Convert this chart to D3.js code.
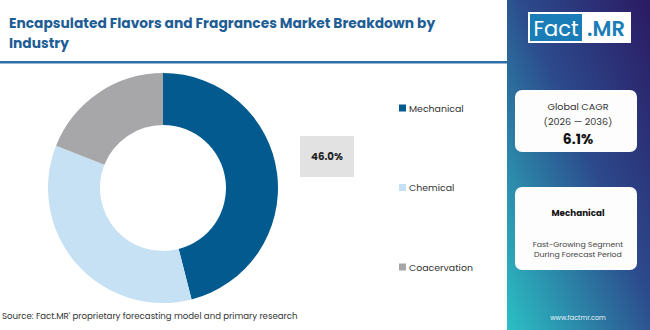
<!DOCTYPE html>
<html><head><meta charset="utf-8">
<script src="https://cdn.jsdelivr.net/npm/d3@7"></script>
<style>body{margin:0;background:#fff}svg{display:block}</style>
</head><body><svg id="c" width="650" height="330"></svg>
<script>
const categories = ["Mechanical", "Chemical", "Coacervation"];
const values = [46.0, 35.0, 19.0];
const colors = ["#025a8e", "#c6e1f3", "#a7a7a9"];
const titleLines = ["Encapsulated Flavors and Fragrances Market Breakdown by", "Industry"];
const highlightLabel = "46.0%";
const cagrLines = ["Global CAGR", "(2026 \u2014 2036)", "6.1%"];
const segmentLines = ["Mechanical", "Fast-Growing Segment", "During Forecast Period"];
const sourceText = "Source: Fact.MR' proprietary forecasting model and primary research";

const svg = d3.select("#c");
const F = "Poppins, 'Open Sans', 'Noto Sans', sans-serif";

// right panel gradient
const defs = svg.append("defs");
const g1 = defs.append("linearGradient").attr("id","pg").attr("x1","100%").attr("y1","0%").attr("x2","0%").attr("y2","100%");
g1.append("stop").attr("offset","0%").attr("stop-color","#2b1a63");
g1.append("stop").attr("offset","45%").attr("stop-color","#2c4a8c");
g1.append("stop").attr("offset","100%").attr("stop-color","#2bc0c4");
svg.append("rect").attr("x",507).attr("y",0).attr("width",143).attr("height",330).attr("fill","url(#pg)");

// title
svg.append("g").selectAll("text").data(titleLines).join("text")
  .attr("x",9).attr("y",(d,i)=>28+i*20)
  .attr("font-family",F).attr("font-weight",700).attr("font-size",13.8)
  .attr("fill","#1f5e95").text(d=>d);
svg.append("rect").attr("x",0).attr("y",61).attr("width",507).attr("height",2.5).attr("fill","#2a6fa8");

// logo
svg.append("rect").attr("x",528).attr("y",12).attr("width",103).attr("height",31).attr("fill","#ffffff");
svg.append("rect").attr("x",530).attr("y",14).attr("width",52).attr("height",27).attr("fill","#1b7db8");
svg.append("text").attr("x",556).attr("y",36).attr("text-anchor","middle").attr("font-family",F).attr("font-size",21).attr("fill","#fff").text("Fact");
svg.append("text").attr("x",606).attr("y",36).attr("text-anchor","middle").attr("font-family",F).attr("font-weight",600).attr("font-size",21).attr("fill","#1b7db8").text(".MR");

// donut
const cx = 163, cy = 188, R = 115, r0 = 63;
const pie = d3.pie().sort(null).value(d=>d);
const arc = d3.arc().innerRadius(r0).outerRadius(R);
svg.append("g").attr("transform",`translate(${cx},${cy})`)
  .selectAll("path").data(pie(values)).join("path")
  .attr("d",arc).attr("fill",(d,i)=>colors[i]);

// highlight box
svg.append("rect").attr("x",300).attr("y",136).attr("width",54).attr("height",41).attr("fill","#e2e2e3");
svg.append("text").attr("x",327).attr("y",160).attr("text-anchor","middle")
  .attr("font-family",F).attr("font-weight",700).attr("font-size",10.2).attr("fill","#222").text(highlightLabel);

// legend
const ly = d3.scalePoint().domain(categories).range([108,267]);
const lg = svg.append("g").selectAll("g").data(categories).join("g")
  .attr("transform",d=>`translate(399,${ly(d)})`);
lg.append("rect").attr("x",0).attr("y",-3.5).attr("width",7).attr("height",7).attr("fill",(d,i)=>colors[i]);
lg.append("text").attr("x",10).attr("y",3.5).attr("font-family",F).attr("font-size",9.4).attr("fill","#333").text(d=>d);

// cards
function card(y,h){
  svg.append("rect").attr("x",515).attr("y",y).attr("width",122).attr("height",h).attr("rx",7).attr("fill","#fdfdfd");
}
card(90,62); card(187,83);
svg.append("g").selectAll("text").data(cagrLines).join("text")
  .attr("x",578).attr("y",(d,i)=>[110,125,144][i]).attr("text-anchor","middle")
  .attr("font-family",F).attr("font-weight",(d,i)=>i==2?700:400).attr("font-size",(d,i)=>i==2?14:9.6)
  .attr("fill",(d,i)=>i==2?"#111":"#333").text(d=>d);
svg.append("g").selectAll("text").data(segmentLines).join("text")
  .attr("x",578).attr("y",(d,i)=>[216,247,257][i]).attr("text-anchor","middle")
  .attr("font-family",F).attr("font-weight",(d,i)=>i==0?700:400).attr("font-size",(d,i)=>i==0?8.8:7.8)
  .attr("fill",(d,i)=>i==0?"#111":"#444").text(d=>d);
svg.append("text").attr("x",578).attr("y",320).attr("text-anchor","middle").attr("font-family",F).attr("font-size",6.5).attr("fill","#e8f4f8").text("www.factmr.com");

// source
svg.append("text").attr("x",2).attr("y",319).attr("font-family",F).attr("font-size",8.6).attr("fill","#333").text(sourceText);
</script></body></html>
